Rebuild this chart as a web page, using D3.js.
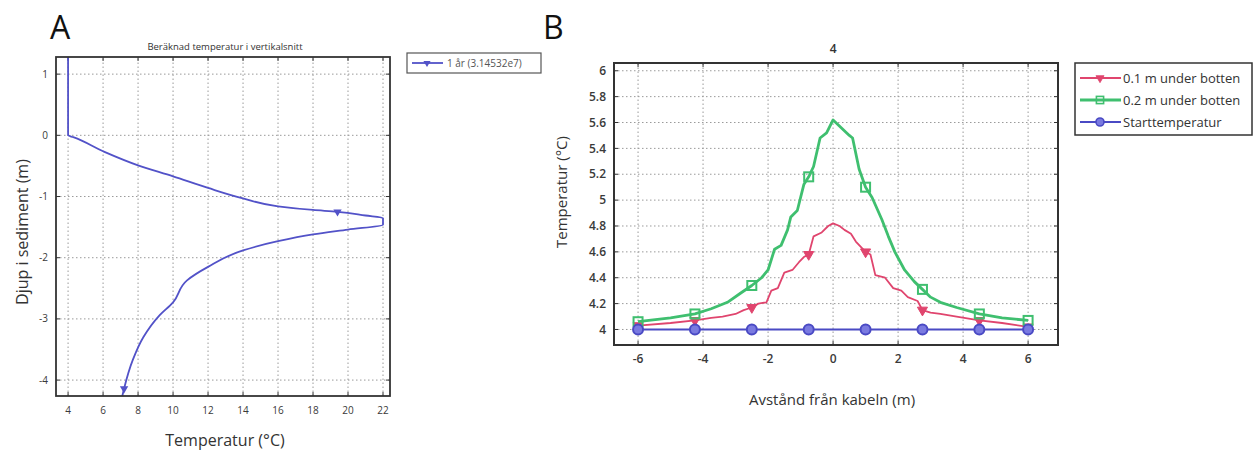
<!DOCTYPE html>
<html>
<head>
<meta charset="utf-8">
<style>
  body { margin: 0; background: #fff; }
  svg text { font-family: "Open Sans", "DejaVu Sans", sans-serif; }
</style>
</head>
<body>
<div id="chart"></div>
<script src="https://cdn.jsdelivr.net/npm/d3@7"></script>
<script>
// panel A: temperature profile with depth
var aTemp  = [4, 4, 4.3, 6, 8, 10, 12, 14, 16, 18, 19.4, 21, 22, 22, 20, 18, 16, 14, 12, 10.8, 10, 9.2, 8.3, 7.7, 7.2, 7.1];
var aDepth = [1.28, 0, -0.03, -0.26, -0.49, -0.67, -0.86, -1.03, -1.16, -1.22, -1.25, -1.31, -1.35, -1.46, -1.54, -1.62, -1.73, -1.88, -2.15, -2.37, -2.73, -2.95, -3.3, -3.67, -4.14, -4.26];
var aMarkerIdx = [10, 24];
var aXTicks = [4, 6, 8, 10, 12, 14, 16, 18, 20, 22];
var aYTicks = [1, 0, -1, -2, -3, -4];

// panel B: temperature vs distance from cable
var redX = [-6, -5, -4.25, -3.75, -3.4, -3, -2.75, -2.5, -2.3, -2.05, -1.9, -1.7, -1.5, -1.25, -1.05, -0.9, -0.75, -0.6, -0.35, -0.15, 0, 0.2, 0.35, 0.55, 0.7, 1, 1.15, 1.3, 1.6, 1.85, 2.1, 2.3, 2.6, 2.75, 3, 3.3, 3.8, 4.5, 5.2, 6];
var redY = [4.03, 4.05, 4.07, 4.09, 4.10, 4.12, 4.15, 4.17, 4.20, 4.21, 4.30, 4.32, 4.44, 4.46, 4.52, 4.56, 4.58, 4.72, 4.75, 4.80, 4.82, 4.80, 4.77, 4.74, 4.68, 4.60, 4.58, 4.42, 4.40, 4.32, 4.30, 4.25, 4.22, 4.15, 4.13, 4.12, 4.10, 4.07, 4.05, 4.02];
var greenX = [-6, -5, -4.25, -3.75, -3.25, -2.85, -2.5, -2.2, -2, -1.8, -1.6, -1.4, -1.3, -1.1, -0.9, -0.75, -0.6, -0.4, -0.2, 0, 0.25, 0.5, 0.6, 0.8, 1, 1.2, 1.5, 1.7, 1.9, 2.2, 2.5, 2.75, 3, 3.3, 3.8, 4.5, 5.2, 6];
var greenY = [4.06, 4.09, 4.12, 4.16, 4.21, 4.28, 4.34, 4.40, 4.46, 4.62, 4.65, 4.77, 4.87, 4.92, 5.12, 5.18, 5.26, 5.48, 5.52, 5.62, 5.56, 5.50, 5.48, 5.24, 5.10, 5.02, 4.85, 4.72, 4.60, 4.46, 4.37, 4.31, 4.25, 4.21, 4.17, 4.12, 4.09, 4.07];
var startX = [-6, -4.25, -2.5, -0.75, 1, 2.75, 4.5, 6];
var startY = [4, 4, 4, 4, 4, 4, 4, 4];
var markerX = [-6, -4.25, -2.5, -0.75, 1, 2.75, 4.5, 6];
var bXTicks = [-6, -4, -2, 0, 2, 4, 6];
var bYTicks = [4, 4.2, 4.4, 4.6, 4.8, 5, 5.2, 5.4, 5.6, 5.8, 6];
var bNames = ["0.1 m under botten", "0.2 m under botten", "Starttemperatur"];
var bColors = ["#e0456e", "#3fbf6f", "#4a4ac4"];

var W = 1255, H = 450;
var svg = d3.select("#chart").append("svg").attr("width", W).attr("height", H);

function drawFrame(g, x, y, xt, yt, fmtY, labelFont, weight) {
  var x0 = x.range()[0], x1 = x.range()[1], y0 = y.range()[0], y1 = y.range()[1];
  // grid
  g.selectAll(".gx").data(xt).enter().append("line")
    .attr("x1", d => x(d)).attr("x2", d => x(d)).attr("y1", y0).attr("y2", y1)
    .attr("stroke", "#9a9a9a").attr("stroke-dasharray", "1.5,2.5").attr("stroke-width", 1);
  g.selectAll(".gy").data(yt).enter().append("line")
    .attr("y1", d => y(d)).attr("y2", d => y(d)).attr("x1", x0).attr("x2", x1)
    .attr("stroke", "#9a9a9a").attr("stroke-dasharray", "1.5,2.5").attr("stroke-width", 1);
  // inward ticks
  xt.forEach(function(d) {
    g.append("line").attr("x1", x(d)).attr("x2", x(d)).attr("y1", y0).attr("y2", y0 - 4).attr("stroke", "#333");
    g.append("line").attr("x1", x(d)).attr("x2", x(d)).attr("y1", y1).attr("y2", y1 + 4).attr("stroke", "#333");
  });
  yt.forEach(function(d) {
    g.append("line").attr("y1", y(d)).attr("y2", y(d)).attr("x1", x0).attr("x2", x0 + 4).attr("stroke", "#333");
    g.append("line").attr("y1", y(d)).attr("y2", y(d)).attr("x1", x1).attr("x2", x1 - 4).attr("stroke", "#333");
  });
  // tick labels
  g.selectAll(".tx").data(xt).enter().append("text")
    .attr("x", d => x(d)).attr("y", y0 + 18).attr("text-anchor", "middle")
    .attr("font-size", labelFont).attr("font-weight", weight).attr("fill", "#3a3a3a").text(d => d);
  g.selectAll(".ty").data(yt).enter().append("text")
    .attr("x", x0 - 8).attr("y", d => y(d) + labelFont * 0.35).attr("text-anchor", "end")
    .attr("font-size", labelFont).attr("font-weight", weight).attr("fill", "#3a3a3a").text(fmtY);
}

// ---------- panel A ----------
var ax = d3.scaleLinear().domain([3.31, 22.4]).range([56, 390]);
var ay = d3.scaleLinear().domain([-4.26, 1.28]).range([396, 57]);
var gA = svg.append("g");
drawFrame(gA, ax, ay, aXTicks, aYTicks, d => d, 10, 400);

var aPts = aTemp.map((t, i) => [t, aDepth[i]]);
gA.append("path").datum(aPts)
  .attr("d", d3.line().curve(d3.curveMonotoneY).x(d => ax(d[0])).y(d => ay(d[1])))
  .attr("fill", "none").attr("stroke", "#5252c8").attr("stroke-width", 1.8);
gA.selectAll(".am").data(aMarkerIdx.map(i => aPts[i])).enter().append("path")
  .attr("transform", d => "translate(" + ax(d[0]) + "," + ay(d[1]) + ") rotate(180)")
  .attr("d", d3.symbol(d3.symbolTriangle, 30)).attr("fill", "#5252c8");
gA.append("rect").attr("x", 56).attr("y", 57).attr("width", 334).attr("height", 339)
  .attr("fill", "none").attr("stroke", "#333").attr("stroke-width", 1.8);

gA.append("text").attr("x", 50).attr("y", 39).attr("font-size", 32).attr("fill", "#111").text("A");
gA.append("text").attr("x", 225).attr("y", 50).attr("text-anchor", "middle").attr("font-size", 9.5)
  .attr("fill", "#333").text("Beräknad temperatur i vertikalsnitt");
gA.append("text").attr("x", 225).attr("y", 446).attr("text-anchor", "middle").attr("font-size", 16)
  .attr("fill", "#333").text("Temperatur (°C)");
gA.append("text").attr("transform", "translate(28,232) rotate(-90)").attr("text-anchor", "middle")
  .attr("font-size", 16).attr("fill", "#333").text("Djup i sediment (m)");

// legend A
var lgA = gA.append("g").attr("transform", "translate(407,53)");
lgA.append("rect").attr("width", 134).attr("height", 20).attr("fill", "#fff").attr("stroke", "#555").attr("stroke-width", 1.2);
lgA.append("line").attr("x1", 5).attr("x2", 36).attr("y1", 10).attr("y2", 10).attr("stroke", "#5252c8").attr("stroke-width", 1.8);
lgA.append("path").attr("transform", "translate(20,10) rotate(180)").attr("d", d3.symbol(d3.symbolTriangle, 22)).attr("fill", "#5252c8");
lgA.append("text").attr("x", 40).attr("y", 14).attr("font-size", 10).attr("fill", "#555").text("1 år (3.14532e7)");

// ---------- panel B ----------
var bx = d3.scaleLinear().domain([-6.74, 6.92]).range([614, 1058]);
var by = d3.scaleLinear().domain([3.88, 6.06]).range([345, 63]);
var gB = svg.append("g");
drawFrame(gB, bx, by, bXTicks, bYTicks, d => d3.format("")(+d.toFixed(1)), 12, 600);

var series = [
  { x: redX, y: redY, w: 1.8, sym: "tri" },
  { x: greenX, y: greenY, w: 2.8, sym: "sq" },
  { x: startX, y: startY, w: 1.8, sym: "circ" }
];
var bLine = d3.line().x(d => bx(d[0])).y(d => by(d[1]));

function drawSym(sel, kind, color, size) {
  if (kind === "tri") {
    sel.append("path").attr("d", d3.symbol(d3.symbolTriangle, size * 1.1)).attr("transform", "rotate(180)")
      .attr("fill", color).attr("stroke", color);
  } else if (kind === "sq") {
    sel.append("rect").attr("x", -4.5).attr("y", -4.5).attr("width", 9).attr("height", 9)
      .attr("fill", "none").attr("stroke", color).attr("stroke-width", 2);
  } else {
    sel.append("circle").attr("r", 5).attr("fill", "#7a7ae0").attr("stroke", color).attr("stroke-width", 2);
  }
}

series.forEach(function(s, k) {
  var pts = s.x.map((v, i) => [v, s.y[i]]);
  gB.append("path").datum(pts).attr("d", bLine)
    .attr("fill", "none").attr("stroke", bColors[k]).attr("stroke-width", s.w).attr("stroke-linejoin", "round");
  var mk = pts.filter(p => markerX.indexOf(p[0]) >= 0);
  mk.forEach(function(p) {
    var m = gB.append("g").attr("transform", "translate(" + bx(p[0]) + "," + by(p[1]) + ")");
    drawSym(m, s.sym, bColors[k], 40);
  });
});

gB.append("rect").attr("x", 614).attr("y", 63).attr("width", 444).attr("height", 282)
  .attr("fill", "none").attr("stroke", "#333").attr("stroke-width", 2);

gB.append("text").attr("x", 543).attr("y", 39).attr("font-size", 32).attr("fill", "#111").text("B");
gB.append("text").attr("x", bx(0)).attr("y", 53).attr("text-anchor", "middle").attr("font-size", 12)
  .attr("font-weight", 600).attr("fill", "#333").text("4");
gB.append("text").attr("x", 832).attr("y", 405).attr("text-anchor", "middle").attr("font-size", 15)
  .attr("fill", "#333").text("Avstånd från kabeln (m)");
gB.append("text").attr("transform", "translate(567,192) rotate(-90)").attr("text-anchor", "middle")
  .attr("font-size", 15).attr("fill", "#333").text("Temperatur (°C)");

// legend B
var lgB = gB.append("g").attr("transform", "translate(1075,63)");
lgB.append("rect").attr("width", 177).attr("height", 72).attr("fill", "#fff").attr("stroke", "#333").attr("stroke-width", 1.5);
bNames.forEach(function(n, i) {
  var yy = 15 + i * 22;
  lgB.append("line").attr("x1", 5).attr("x2", 46).attr("y1", yy).attr("y2", yy)
    .attr("stroke", bColors[i]).attr("stroke-width", series[i].w);
  var m = lgB.append("g").attr("transform", "translate(25," + yy + ") scale(0.8)");
  drawSym(m, series[i].sym, bColors[i], 40);
  lgB.append("text").attr("x", 48).attr("y", yy + 5).attr("font-size", 13).attr("fill", "#333").text(n);
});
</script>
</body>
</html>
